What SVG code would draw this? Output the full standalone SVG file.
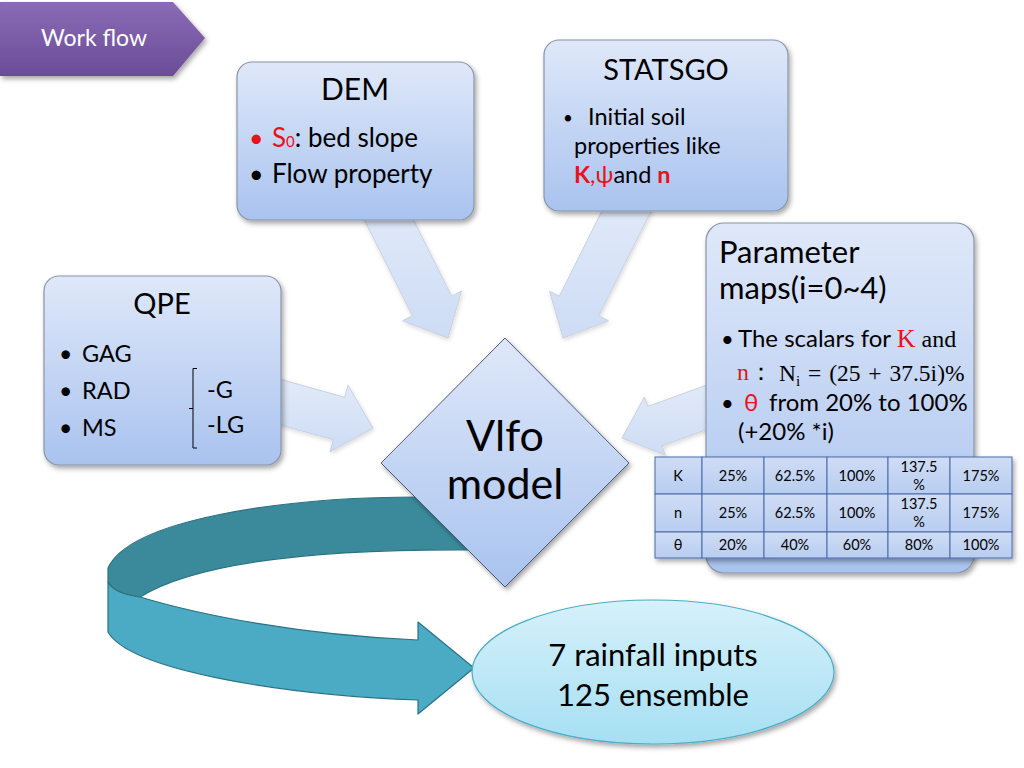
<svg xmlns="http://www.w3.org/2000/svg" width="1024" height="768" viewBox="0 0 1024 768">
<defs>
<style>
.t{font-family:Lato,"Liberation Sans",sans-serif;fill:#000}
.s{font-family:"Liberation Serif","DejaVu Serif",serif}
.box{fill:url(#gBox);stroke:#8a94a8;stroke-width:1.2;filter:url(#sh)}
.barr{fill:url(#gArr);stroke:#c9d1de;stroke-width:1;filter:url(#sh2)}
.red{fill:#e8121b}
.tb{fill:url(#gTab);stroke:#4a6aa8;stroke-width:1}
.tt{font-family:Lato,"Liberation Sans",sans-serif;font-size:14.5px;fill:#000;text-anchor:middle}
</style>
<linearGradient id="gBox" x1="0" y1="0" x2="0" y2="1"><stop offset="0" stop-color="#dfe8f9"/><stop offset="1" stop-color="#a9c3ef"/></linearGradient>
<linearGradient id="gArr" x1="0" y1="0" x2="0" y2="1"><stop offset="0" stop-color="#e3ebf9"/><stop offset="1" stop-color="#cddcf5"/></linearGradient>
<linearGradient id="gTab" x1="0" y1="0" x2="0" y2="1"><stop offset="0" stop-color="#cfdcf5"/><stop offset="1" stop-color="#b8cdf1"/></linearGradient>
<linearGradient id="gEll" x1="0" y1="0" x2="0" y2="1"><stop offset="0" stop-color="#d6f1fa"/><stop offset="1" stop-color="#a6dff3"/></linearGradient>
<linearGradient id="gTag" x1="0" y1="0" x2="0" y2="1"><stop offset="0" stop-color="#8a6bb5"/><stop offset="1" stop-color="#6b4c98"/></linearGradient>
<filter id="sh" x="-10%" y="-10%" width="125%" height="125%"><feDropShadow dx="2" dy="3" stdDeviation="2.5" flood-color="#000" flood-opacity="0.35"/></filter>
<filter id="sh2" x="-10%" y="-10%" width="125%" height="125%"><feDropShadow dx="1" dy="2" stdDeviation="2" flood-color="#000" flood-opacity="0.15"/></filter>
</defs>
<rect width="1024" height="768" fill="#fff"/>

<g id="tag">
<polygon points="0,2 173,2 205,38 173,76 0,76" fill="url(#gTag)" filter="url(#sh)"/>
<text class="t" x="41" y="46" font-size="23" style="fill:#fff">Work flow</text>
</g>

<g id="connectors">
<polygon class="barr" points="398,189 358.7,208.5 412.3,315.8 402.5,320.8 448,338 461.5,291 451.7,296.2"/>
<polygon class="barr" points="652.4,208.5 613,188.9 559.3,296.2 549.5,291.2 563,338 608.5,320.8 598.7,315.8"/>
<polygon class="barr" points="267.7,375.7 256.3,418.3 333.3,439.7 330,451.8 373,428 348,385.2 344.7,397.3"/>
<polygon class="barr" points="737.1,418.6 722.9,379.2 647.8,406.4 644.4,397 622,438 665.4,455.2 662,445.8"/>
<g id="loop" stroke="#2b7183" stroke-width="1.2" stroke-linejoin="round">
<path d="M490,497 L420,497 C280,497 130,520 108,568 L108,582 C112,590 125,595 140,597 C200,560 330,548 490,550 Z" fill="#3a8a9c"/>
<path d="M140,597 C200,615 300,635 418,640 L418,622 L474,668 L418,714 L418,700 C280,695 130,670 108,632 L108,582 C112,590 125,595 140,597 Z" fill="#4babc5"/>
</g>
</g>

<g id="dem">
<rect class="box" x="237" y="62" width="237" height="158" rx="15"/>
<text class="t" x="355" y="100" font-size="30" text-anchor="middle">DEM</text>
<text class="t" x="249" y="147" font-size="25"><tspan class="red">•</tspan></text>
<text class="t" x="272" y="147" font-size="26"><tspan class="red">S</tspan><tspan class="red" font-size="15">0</tspan>: bed slope</text>
<text class="t" x="249" y="183" font-size="25">•</text>
<text class="t" x="272" y="183" font-size="26">Flow property</text>
</g>

<g id="statsgo">
<rect class="box" x="544" y="40" width="244" height="171" rx="15"/>
<text class="t" x="666" y="80" font-size="29" text-anchor="middle">STATSGO</text>
<text class="t" x="563" y="124" font-size="17">•</text>
<text class="t" x="588" y="125" font-size="23.5">Initial soil</text>
<text class="t" x="574" y="154" font-size="23.5">properties like</text>
<text class="t" x="574" y="183" font-size="23.5"><tspan class="red" font-weight="bold">K</tspan><tspan class="red">,ψ</tspan>and <tspan class="red" font-weight="bold">n</tspan></text>
</g>

<g id="qpe">
<rect class="box" x="44" y="276" width="237" height="189" rx="15"/>
<text class="t" x="162" y="314" font-size="29" text-anchor="middle">QPE</text>
<text class="t" x="59" y="362" font-size="23">•</text>
<text class="t" x="82" y="362" font-size="23.5">GAG</text>
<text class="t" x="59" y="399" font-size="23">•</text>
<text class="t" x="82" y="399" font-size="23.5">RAD</text>
<text class="t" x="59" y="436" font-size="23">•</text>
<text class="t" x="82" y="436" font-size="23.5">MS</text>
<path d="M197,368.5 H193 V448 H197 M193,408.5 H189" fill="none" stroke="#000" stroke-width="1"/>
<text class="t" x="207" y="398" font-size="23.5">-G</text>
<text class="t" x="207" y="433" font-size="23.5">-LG</text>
</g>

<g id="param">
<rect class="box" x="706" y="223" width="268" height="350" rx="18"/>
<text class="t" x="719" y="263" font-size="31">Parameter</text>
<text class="t" x="719" y="299" font-size="31">maps(i=0~4)</text>
<text class="t" x="721" y="347" font-size="22">•</text>
<text class="t" x="738" y="347" font-size="24">The scalars for <tspan class="s red" font-size="26">K</tspan><tspan class="s" font-size="24"> and</tspan></text>
<text class="s" x="737" y="380" font-size="24"><tspan class="red">n</tspan>：</text>
<text class="s" x="779" y="381" font-size="23.5" word-spacing="2">N<tspan font-size="15" dy="5">i</tspan><tspan dy="-5"> = (25 + 37.5i)%</tspan></text>
<text class="t" x="721" y="411" font-size="22">•</text>
<text class="t" x="744" y="411" font-size="24"><tspan class="red">θ</tspan></text>
<text class="t" x="769" y="411" font-size="24">from 20% to 100%</text>
<text class="t" x="738" y="440" font-size="24">(+20% *i)</text>
</g>

<g id="table" filter="url(#sh)">
<rect class="tb" x="655" y="457" width="47" height="37"/>
<rect class="tb" x="702" y="457" width="62" height="37"/>
<rect class="tb" x="764" y="457" width="63" height="37"/>
<rect class="tb" x="827" y="457" width="61" height="37"/>
<rect class="tb" x="888" y="457" width="62" height="37"/>
<rect class="tb" x="950" y="457" width="62" height="37"/>
<rect class="tb" x="655" y="494" width="47" height="38"/>
<rect class="tb" x="702" y="494" width="62" height="38"/>
<rect class="tb" x="764" y="494" width="63" height="38"/>
<rect class="tb" x="827" y="494" width="61" height="38"/>
<rect class="tb" x="888" y="494" width="62" height="38"/>
<rect class="tb" x="950" y="494" width="62" height="38"/>
<rect class="tb" x="655" y="532" width="47" height="26"/>
<rect class="tb" x="702" y="532" width="62" height="26"/>
<rect class="tb" x="764" y="532" width="63" height="26"/>
<rect class="tb" x="827" y="532" width="61" height="26"/>
<rect class="tb" x="888" y="532" width="62" height="26"/>
<rect class="tb" x="950" y="532" width="62" height="26"/>
</g>
<g id="tabletext">
<text class="tt" x="678" y="481">K</text>
<text class="tt" x="733" y="481">25%</text>
<text class="tt" x="795" y="481">62.5%</text>
<text class="tt" x="857" y="481">100%</text>
<text class="tt" x="919" y="472">137.5</text>
<text class="tt" x="919" y="490">%</text>
<text class="tt" x="981" y="481">175%</text>
<text class="tt" x="678" y="518">n</text>
<text class="tt" x="733" y="518">25%</text>
<text class="tt" x="795" y="518">62.5%</text>
<text class="tt" x="857" y="518">100%</text>
<text class="tt" x="919" y="509">137.5</text>
<text class="tt" x="919" y="527">%</text>
<text class="tt" x="981" y="518">175%</text>
<text class="tt" x="678" y="550">θ</text>
<text class="tt" x="733" y="550">20%</text>
<text class="tt" x="795" y="550">40%</text>
<text class="tt" x="857" y="550">60%</text>
<text class="tt" x="919" y="550">80%</text>
<text class="tt" x="981" y="550">100%</text>
</g>

<g id="model">
<polygon points="505,338 629,463 505,587 381,463" fill="url(#gBox)" stroke="#4d5b78" stroke-width="1" filter="url(#sh)"/>
<text class="t" x="505" y="451" font-size="43" text-anchor="middle">Vlfo</text>
<text class="t" x="505" y="499" font-size="43" text-anchor="middle">model</text>
</g>

<g id="ensemble">
<ellipse cx="653" cy="672" rx="181" ry="72" fill="url(#gEll)" stroke="#4bacc6" stroke-width="1.2" filter="url(#sh)"/>
<text class="t" x="653" y="666" font-size="31" text-anchor="middle">7 rainfall inputs</text>
<text class="t" x="653" y="706" font-size="31" text-anchor="middle">125 ensemble</text>
</g>
</svg>
